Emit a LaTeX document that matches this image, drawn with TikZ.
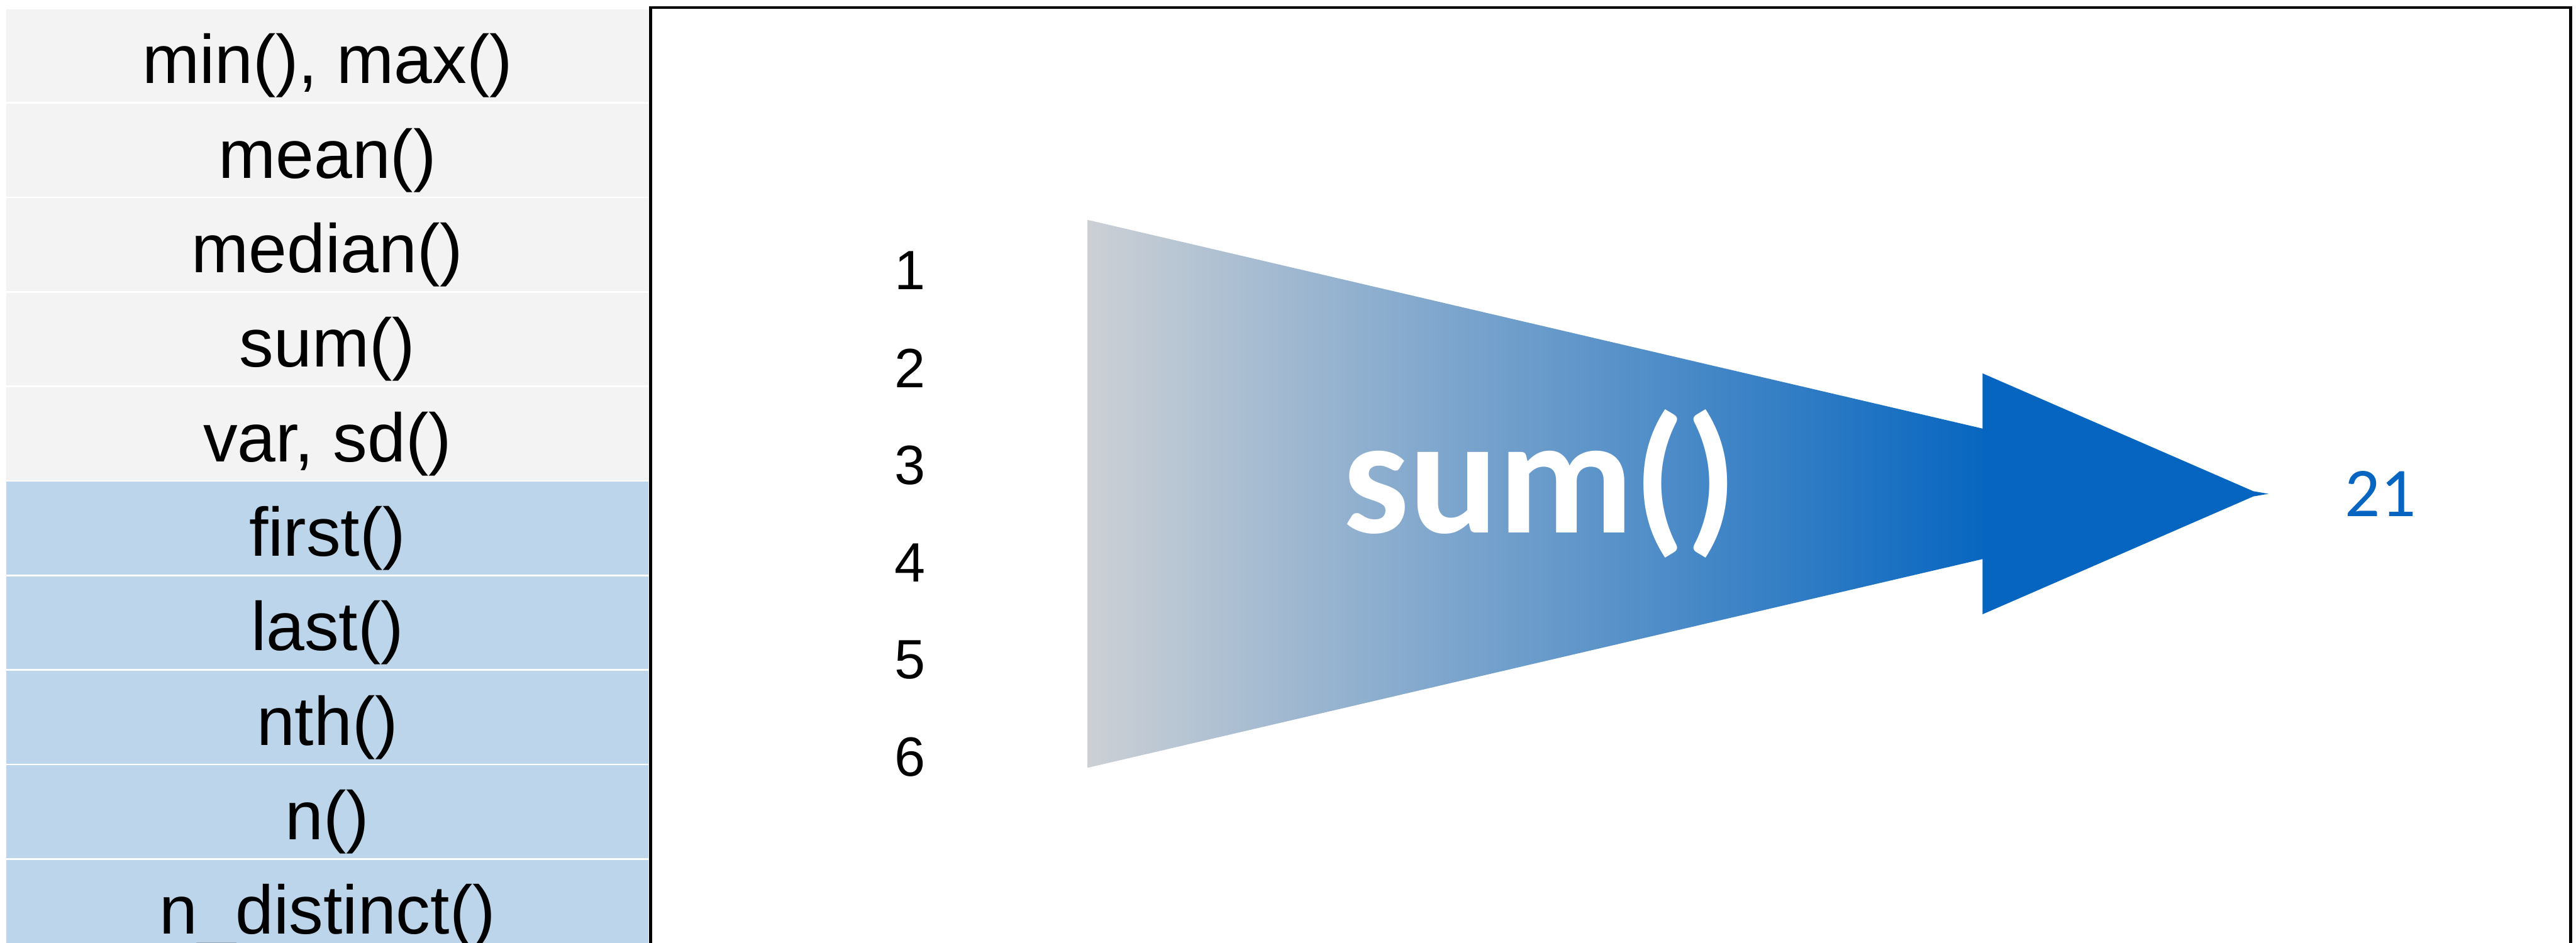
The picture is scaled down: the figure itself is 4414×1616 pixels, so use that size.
\documentclass[tikz,border=0pt]{standalone}
\usepackage{fontspec}
\setmainfont{Liberation Sans}
\newfontfamily\calfont{Carlito}
\usetikzlibrary{positioning}

\definecolor{rowgray}{HTML}{F3F3F3}
\definecolor{rowblue}{HTML}{BDD5EA}
\definecolor{fadegray}{HTML}{CCD0D5}
\definecolor{midblue}{HTML}{6E9DCB}
\definecolor{sumblue}{HTML}{0565C0}

\begin{document}
\begin{tikzpicture}[x=0.01cm, y=-0.01cm,
    fnrow/.style={inner sep=0pt, anchor=base, font=\fontsize{33.5}{40}\selectfont},
    invalue/.style={inner sep=0pt, font=\fontsize{27}{32}\selectfont},
    sumlabel/.style={inner sep=0pt, anchor=base, text=white, font=\calfont\bfseries\fontsize{81}{96}\selectfont},
    outvalue/.style={inner sep=0pt, text=sumblue, font=\calfont\fontsize{34}{40}\selectfont}]
    \useasboundingbox (0,0) rectangle (4414,1616);
    \clip (0,0) rectangle (4414,1616);

    % Function list
    \foreach \lab [count=\i from 0] in {{min(), max()}, mean(), median(), sum(), {var, sd()}, first(), last(), nth(), n(), n\_distinct()} {
        \ifnum\i<5 \def\rowcol{rowgray}\else\def\rowcol{rowblue}\fi
        \fill[\rowcol] (11,16+162*\i) rectangle (1111,175+162*\i);
        \node[fnrow] (fn\i) at (561,143+162*\i) {\lab};
    }

    % Frame
    \draw[line width=1.42pt] (1115,1650) -- (1115,13) -- (4405,13) -- (4405,1650);

    % Input values
    \foreach \v in {1,...,6}
        \node[invalue] (in\v) at (1559,464+166.8*\v-166.8) {\v};

    % Arrow: fading shaft, solid head
    \shade[left color=fadegray, middle color=midblue, right color=sumblue]
        (1864,377) -- (3420,740) -- (3420,953) -- (1864,1316) -- cycle;
    \fill[sumblue] (3397,640) -- (3861,842) -- (3887,846.5) -- (3861,851) -- (3397,1053) -- cycle;
    \node[sumlabel] (fn) at (2639,913) {sum()};

    % Result
    \node[outvalue] (out) at (4079,846) {21};
\end{tikzpicture}
\end{document}
